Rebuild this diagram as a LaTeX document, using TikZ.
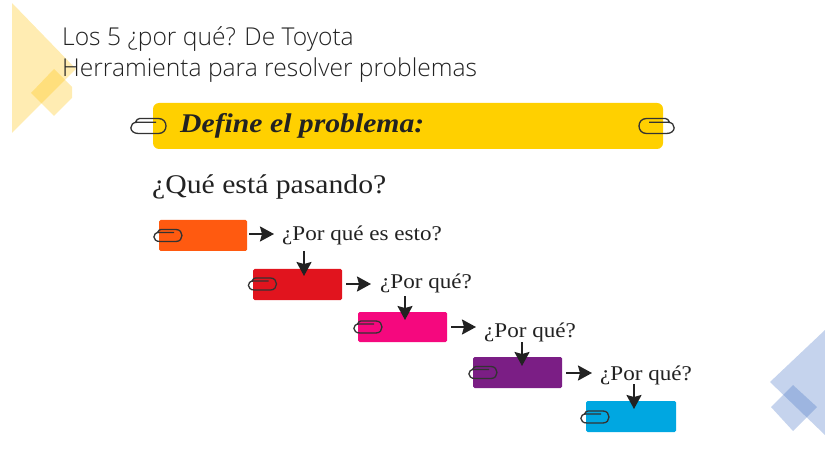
\documentclass[tikz,border=0pt]{standalone}
\usepackage{fontspec}
\setmainfont[FakeStretch=1.1]{Liberation Serif}
\newfontfamily\titlefont{Open Sans Light}
\usetikzlibrary{arrows.meta}
\definecolor{hdr}{HTML}{FFD000}
\definecolor{cA}{HTML}{FF5A10}
\definecolor{cB}{HTML}{E1141E}
\definecolor{cC}{HTML}{F5087E}
\definecolor{cD}{HTML}{7B1E85}
\definecolor{cE}{HTML}{00A7E1}
\definecolor{decoY}{HTML}{FFC000}
\definecolor{decoB}{HTML}{4472C4}
\definecolor{ink}{HTML}{222222}
\tikzset{
  x=1pt,y=-1pt,
  bar/.style={anchor=north west,inner sep=0pt,outer sep=0pt,rounded corners=1.5pt,draw=none},
  ask/.style={anchor=base west,inner sep=0pt,font=\fontsize{21}{24}\selectfont,text=ink},
  head/.style={anchor=base west,inner sep=0pt,text=ink},
  titleline/.style={anchor=base west,inner sep=0pt,text=ink,font=\titlefont\fontsize{24.6}{31}\selectfont},
  flow/.style={draw=ink,line width=2pt,-{Stealth[length=14pt,width=15pt,inset=2pt]}},
  clipline/.style={draw=#1,line width=1.3pt,fill=none},
  clipline/.default={black!80},
  pics/paperclip/.style={code={
    \draw[clipline] (3.5,-3) .. controls (4.5,-5) and (5.5,-6) .. (7,-6) -- (22,-6)
      .. controls (30,-6) and (30,6) .. (22,6) -- (6,6)
      .. controls (-2,6) and (-2,-3) .. (5,-3) -- (20,-3);
  }}
}
\begin{document}
\begin{tikzpicture}
\useasboundingbox (0,0) rectangle (825,449);
% decoration
\fill[decoY,opacity=.3] (12,3) -- (76,69) -- (12,133) -- cycle;
\fill[decoY,opacity=.3] (54,69) -- (72,87) -- (72,98) -- (54,116) -- (31,93) -- cycle;
\fill[decoB,opacity=.31] (825,330) -- (770,382) -- (825,435) -- cycle;
\fill[decoB,opacity=.31] (793,385) -- (817,407) -- (793,431) -- (771,407) -- cycle;
% title
\node[titleline] (t1) at (62,46) {Los 5 ¿por qué? De Toyota};
\node[titleline] (t2) at (62,77) {Herramienta para resolver problemas};
% header band
\node[bar,fill=hdr,rounded corners=6pt,minimum width=510pt,minimum height=46pt] (band) at (153,103) {};
\node[head,font=\fontsize{27}{30}\selectfont\bfseries\itshape] (bandtext) at (180,133) {Define el problema:};
\pic[scale=1.25] at (131,126) {paperclip};
\pic[xscale=-1.25,yscale=1.25] at (674,126) {paperclip};
\node[head,font=\fontsize{27}{30}\selectfont] (q) at (152,194) {¿Qué está pasando?};
% boxes
\node[bar,fill=cA,minimum width=88pt,minimum height=31pt] (b1) at (159,220) {};
\node[bar,fill=cB,minimum width=89pt,minimum height=31pt] (b2) at (253,269) {};
\node[bar,fill=cC,minimum width=89pt,minimum height=30pt] (b3) at (358,312) {};
\node[bar,fill=cD,minimum width=89pt,minimum height=31pt] (b4) at (473,357) {};
\node[bar,fill=cE,minimum width=90pt,minimum height=31pt] (b5) at (586,401) {};
% clips
\pic at (154,235.5) {paperclip};
\pic at (248.5,284) {paperclip};
\pic at (354,327) {paperclip};
\pic at (469,372.5) {paperclip};
\pic at (581,417) {paperclip};
% labels
\node[ask] (l1) at (282,241) {¿Por qué es esto?};
\node[ask] (l2) at (380,289) {¿Por qué?};
\node[ask] (l3) at (484,337) {¿Por qué?};
\node[ask] (l4) at (600,380) {¿Por qué?};
% free ends
\coordinate (s1) at (304,251); \coordinate (e1) at (304,276);
\coordinate (s2) at (405,296); \coordinate (e2) at (405,320);
\coordinate (s3) at (522,342); \coordinate (e3) at (522,366);
\coordinate (s4) at (634,384); \coordinate (e4) at (634,409);
\coordinate (h1) at (274,234); \coordinate (h2) at (371,284);
\coordinate (h3) at (476,327); \coordinate (h4) at (592,373);
% connectors
\draw[flow] (b1.east |- h1) ++(2,0) -- (h1);
\draw[flow] (b2.east |- h2) ++(4,0) -- (h2);
\draw[flow] (b3.east |- h3) ++(4,0) -- (h3);
\draw[flow] (b4.east |- h4) ++(4,0) -- (h4);
\draw[flow] (s1) -- (e1);
\draw[flow] (s2) -- (e2);
\draw[flow] (s3) -- (e3);
\draw[flow] (s4) -- (e4);
\end{tikzpicture}
\end{document}
